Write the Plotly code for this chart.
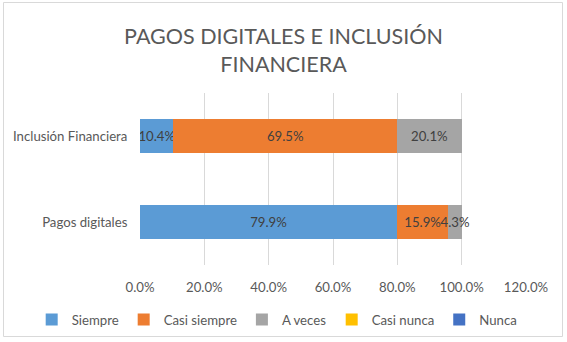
import plotly.graph_objects as go

categories = ["Pagos digitales", "Inclusión Financiera"]
series_names = ["Siempre", "Casi siempre", "A veces", "Casi nunca", "Nunca"]
siempre = [0.799, 0.104]
casi_siempre = [0.159, 0.695]
a_veces = [0.043, 0.201]
casi_nunca = [0, 0]
nunca = [0, 0]
colors = ["#5B9BD5", "#ED7D31", "#A5A5A5", "#FFC000", "#4472C4"]
tick_vals = [0, 0.2, 0.4, 0.6, 0.8, 1.0, 1.2]

FONT = "Lato, Carlito, Calibri, sans-serif"
FS = 13.2

fig = go.Figure()
for i, (name, vals, col) in enumerate(zip(series_names, [siempre, casi_siempre, a_veces, casi_nunca, nunca], colors)):
    texts = [f"{v*100:.1f}%" if v > 0 else "" for v in vals]
    fig.add_trace(go.Bar(
        y=categories, x=vals, name=name, orientation="h",
        marker=dict(color=col, line=dict(width=0)),
        text=texts, textposition="inside", insidetextanchor="middle",
        textangle=0, constraintext="none",
        textfont=dict(family=FONT, size=FS, color="#404040"),
        hoverinfo="skip",
        legend="legend" if i < 3 else "legend2",
    ))

W, H = 567, 342
ml, mr, mt, mb = 140, 41, 93, 77
pw, ph = W - ml - mr, H - mt - mb
def px_to_paper_x(px):
    return (px - ml) / pw
def px_to_paper_y(py):
    return (H - mb - py) / ph

leg_common = dict(orientation="h", xref="container",
                  yref="paper", y=px_to_paper_y(320), yanchor="middle",
                  font=dict(family=FONT, size=FS, color="#595959"),
                  itemwidth=30, traceorder="normal", bgcolor="rgba(0,0,0,0)")
split_x = 0.585

fig.update_layout(
    width=W, height=H,
    barmode="stack", bargap=0.6,
    margin=dict(l=ml, r=mr, t=mt, b=mb, pad=0, autoexpand=False),
    paper_bgcolor="white", plot_bgcolor="white",
    font=dict(family=FONT, size=FS, color="#595959"),
    title=dict(text="PAGOS DIGITALES E INCLUSIÓN<br>FINANCIERA",
               x=0.5, xanchor="center", xref="container",
               y=0.872, yanchor="middle", yref="container",
               font=dict(family=FONT, size=21.5, color="#595959")),
    xaxis=dict(range=[0, 1.2], tickvals=tick_vals, tickformat=".1%",
               showgrid=True, gridcolor="#D9D9D9", gridwidth=1,
               zeroline=False, showline=False, automargin=False,
               ticks="outside", ticklen=10, tickcolor="rgba(0,0,0,0)",
               tickfont=dict(family=FONT, size=FS, color="#595959"),
               fixedrange=True),
    yaxis=dict(categoryorder="array", categoryarray=categories,
               showgrid=False, zeroline=False, showline=False, automargin=False,
               ticks="outside", ticklen=9, tickcolor="rgba(0,0,0,0)",
               tickfont=dict(family=FONT, size=FS, color="#595959"),
               fixedrange=True),
    legend=dict(x=split_x, xanchor="right", **leg_common),
    legend2=dict(x=split_x, xanchor="left", **leg_common),
    showlegend=True,
    shapes=[dict(type="rect", xref="paper", yref="paper",
                 x0=px_to_paper_x(3.5), x1=px_to_paper_x(562.5),
                 y0=px_to_paper_y(336.5), y1=px_to_paper_y(2.5),
                 line=dict(color="#D9D9D9", width=1), fillcolor="rgba(0,0,0,0)",
                 layer="below")],
)

fig.write_html("out.html", config={"displayModeBar": False},
               post_script="document.body.style.margin='0';document.body.style.padding='0';")
